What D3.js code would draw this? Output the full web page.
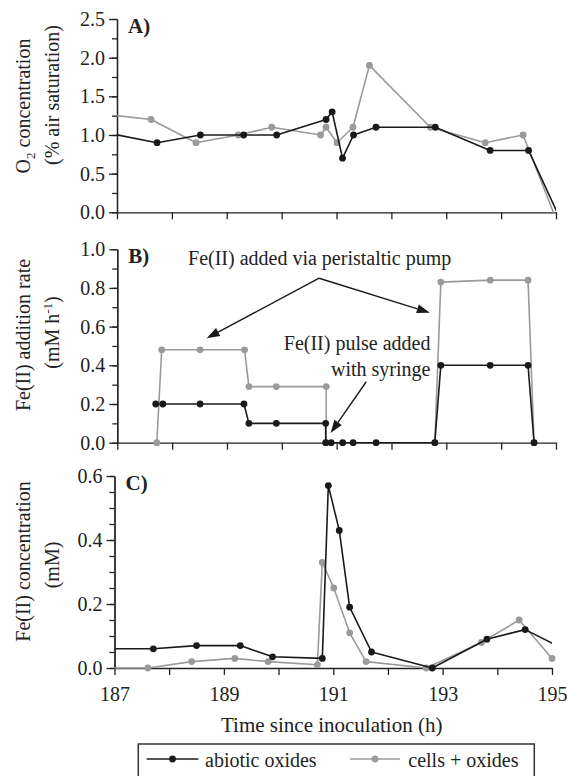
<!DOCTYPE html>
<html>
<head>
<meta charset="utf-8">
<style>
  body { margin: 0; background: #fff; }
  svg text { font-family: "Liberation Serif", "Tinos", "DejaVu Serif", "Times New Roman", Times, serif !important; fill: #222; }
</style>
</head>
<body>
<svg width="567" height="776"></svg>
<script src="https://d3js.org/d3.v7.min.js"></script>
<script>

    // ---- data (time in h, value) ----
    var timeTicks  = [187, 188, 189, 190, 191, 192, 193, 194, 195];
    var timeLabels = [187, 189, 191, 193, 195];

    // A) O2 concentration (% air saturation)
    var o2Abiotic = [[186.5,1.07],[187.73,0.9],[188.52,1.0],[189.31,1.0],[189.91,1.0],[190.81,1.2],[190.92,1.3],
                     [191.11,0.7],[191.31,1.0],[191.72,1.1],[192.8,1.1],[193.8,0.8],[194.5,0.8],[195.3,-0.43]];
    var o2Cells   = [[186.5,1.29],[187.62,1.2],[188.44,0.9],[189.21,1.0],[189.82,1.1],[190.71,1.0],[190.81,1.1],
                     [191.01,0.9],[191.3,1.1],[191.6,1.9],[192.71,1.1],[193.71,0.9],[194.4,1.0],[195.2,-0.45]];
    var o2Ticks   = [0, 0.5, 1.0, 1.5, 2.0, 2.5];

    // B) Fe(II) addition rate (mM h-1)
    var rateAbiotic = [[187.7,0.2],[187.83,0.2],[188.51,0.2],[189.31,0.2],[189.4,0.1],[189.9,0.1],[190.8,0.1],
                       [190.8,0],[190.9,0],[191.11,0],[191.3,0],[191.72,0],[192.79,0],[192.9,0.4],[193.8,0.4],
                       [194.49,0.4],[194.6,0]];
    var rateCells   = [[187.72,0],[187.81,0.48],[188.51,0.48],[189.32,0.48],[189.4,0.29],[189.9,0.29],[190.81,0.29],
                       [190.81,0],[192.79,0],[192.9,0.83],[193.8,0.84],[194.49,0.84],[194.6,0]];
    var rateTicks   = [0, 0.2, 0.4, 0.6, 0.8, 1.0];

    // C) Fe(II) concentration (mM)
    var concAbiotic = [[186.5,0.06],[187.71,0.06],[188.5,0.07],[189.3,0.07],[189.89,0.035],[190.8,0.03],[190.91,0.57],
                       [191.11,0.43],[191.3,0.19],[191.7,0.05],[192.81,0],[193.81,0.09],[194.51,0.12],[195.5,0.035]];
    var concCells   = [[186.5,0],[187.61,0],[188.41,0.02],[189.2,0.03],[189.81,0.02],[190.71,0.01],[190.8,0.33],
                       [191.01,0.25],[191.3,0.11],[191.6,0.02],[192.7,0],[193.71,0.08],[194.4,0.15],[195.0,0.03]];
    var concTicks   = [0, 0.2, 0.4, 0.6];

    var seriesNames = ["abiotic oxides", "cells + oxides"];

    // annotation anchors for panel B, in data units
    var pumpText    = [190.69, 0.918];
    var pumpApex    = [190.68, 0.85];
    var pumpTips    = [[188.63, 0.54], [192.70, 0.672]];
    var syringeText = [192.71, 0.479];
    var syringeFrom = [191.54, 0.315];
    var syringeTip  = [190.89, 0.05];

    var svg = d3.select("svg");
    var ink = "#222", dark = "#1a1a1a", grey = "#9a9a9a";
    var serif = '"Liberation Serif", Tinos, "DejaVu Serif", "Times New Roman", Times, serif';

    var panels = [
        {name: "A", xr: [117, 556],   top: 19,    bottom: 212.3, max: 2.5, minor: 0.25,
         ticks: o2Ticks,   series: [o2Cells, o2Abiotic]},
        {name: "B", xr: [117.3, 556], top: 249.2, bottom: 442.7, max: 1.0, minor: 0.1,
         ticks: rateTicks, series: [rateCells, rateAbiotic]},
        {name: "C", xr: [114.5, 552], top: 476,   bottom: 668,   max: 0.6, minor: 0.05,
         ticks: concTicks, series: [concCells, concAbiotic], labels: true}
    ];
    var colors = [grey, dark];

    function styleAxis(sel, size) {
        sel.attr("font-size", size).attr("font-family", serif);
        sel.selectAll("path, line").attr("stroke", ink).attr("stroke-width", 1.3);
        sel.selectAll("text").attr("fill", ink);
    }

    panels.forEach(function(p) {
        var x = d3.scaleLinear().domain([187, 195]).range(p.xr);
        var y = d3.scaleLinear().domain([0, p.max]).range([p.bottom, p.top]);
        p.x = x; p.y = y;

        svg.append("clipPath").attr("id", "clip" + p.name)
            .append("rect")
            .attr("x", x(187)).attr("y", y(p.max))
            .attr("width", x(195) - x(187))
            .attr("height", y(0) - y(p.max) + 1);

        // minor y ticks
        var minor = d3.range(0, p.max + 1e-9, p.minor);
        svg.append("g")
            .attr("transform", "translate(" + x(187) + ",0)")
            .call(d3.axisLeft(y).tickValues(minor).tickSize(5).tickSizeOuter(0).tickFormat(""))
            .call(styleAxis, 20);

        // major y ticks
        svg.append("g")
            .attr("transform", "translate(" + x(187) + ",0)")
            .call(d3.axisLeft(y).tickValues(p.ticks).tickSize(8).tickSizeOuter(0).tickPadding(4)
                  .tickFormat(d3.format(".1f")))
            .call(styleAxis, 20);

        // x axis
        svg.append("g")
            .attr("transform", "translate(0," + y(0) + ")")
            .call(d3.axisBottom(x).tickValues(timeTicks).tickSize(7).tickSizeOuter(0).tickPadding(12)
                  .tickFormat(function(d) { return p.labels && timeLabels.indexOf(d) >= 0 ? d : ""; }))
            .call(styleAxis, 20);

        var line = d3.line()
            .x(function(d) { return x(d[0]); })
            .y(function(d) { return y(d[1]); });

        p.series.forEach(function(s, i) {
            svg.append("path")
                .datum(s)
                .attr("clip-path", "url(#clip" + p.name + ")")
                .attr("fill", "none")
                .attr("stroke", colors[i])
                .attr("stroke-width", 1.6)
                .attr("stroke-linejoin", "round")
                .attr("d", line);

            svg.append("g").selectAll("circle")
                .data(s.filter(function(d) { return d[0] >= 187 && d[0] <= 195 && d[1] >= 0; }))
                .enter().append("circle")
                .attr("cx", function(d) { return x(d[0]); })
                .attr("cy", function(d) { return y(d[1]); })
                .attr("r", 3.4)
                .attr("fill", colors[i]);
        });

        svg.append("text")
            .attr("x", x(187) + 11)
            .attr("y", p.top + 13.5)
            .attr("font-family", serif)
            .attr("font-size", 21)
            .attr("font-weight", "bold")
            .text(p.name + ")");
    });

    // ---- y axis titles ----
    function yTitle(bx, cy) {
        return svg.append("text")
            .attr("transform", "translate(" + bx + "," + cy + ") rotate(-90)")
            .attr("text-anchor", "middle")
            .attr("font-family", serif)
            .attr("font-size", 20);
    }
    var t1 = yTitle(30, 106);
    t1.append("tspan").text("O");
    t1.append("tspan").attr("font-size", 13).attr("dy", 5).text("2");
    t1.append("tspan").attr("dy", -5).text(" concentration");
    yTitle(59, 95).text("(% air saturation)");

    yTitle(29.5, 335).text("Fe(II) addition rate");
    var t2 = yTitle(58.5, 332.5);
    t2.append("tspan").text("(mM h");
    t2.append("tspan").attr("font-size", 13).attr("dy", -7).text("-1");
    t2.append("tspan").attr("dy", 7).text(")");

    yTitle(29.5, 561.5).text("Fe(II) concentration");
    yTitle(58.5, 565).text("(mM)");

    // ---- x axis title ----
    svg.append("text")
        .attr("x", 331.7).attr("y", 731.5)
        .attr("text-anchor", "middle")
        .attr("font-family", serif)
        .attr("font-size", 21)
        .text("Time since inoculation (h)");

    // ---- annotations in panel B ----
    var pb = panels[1];
    function arrow(from, to) {
        var x1 = pb.x(from[0]), y1 = pb.y(from[1]), x2 = pb.x(to[0]), y2 = pb.y(to[1]);
        var a = Math.atan2(y2 - y1, x2 - x1), len = 13, hw = 4.5;
        var bx = x2 - len * Math.cos(a), by = y2 - len * Math.sin(a);
        svg.append("line")
            .attr("x1", x1).attr("y1", y1).attr("x2", bx).attr("y2", by)
            .attr("stroke", dark).attr("stroke-width", 1.4);
        svg.append("path")
            .attr("d", "M" + x2 + "," + y2 +
                       "L" + (bx + hw * Math.sin(a)) + "," + (by - hw * Math.cos(a)) +
                       "L" + (bx - hw * Math.sin(a)) + "," + (by + hw * Math.cos(a)) + "Z")
            .attr("fill", dark);
    }
    svg.append("text")
        .attr("x", pb.x(pumpText[0])).attr("y", pb.y(pumpText[1]))
        .attr("text-anchor", "middle").attr("font-family", serif).attr("font-size", 20)
        .text("Fe(II) added via peristaltic pump");
    pumpTips.forEach(function(t) { arrow(pumpApex, t); });

    var st = svg.append("text")
        .attr("x", pb.x(syringeText[0])).attr("y", pb.y(syringeText[1]))
        .attr("text-anchor", "end").attr("font-family", serif).attr("font-size", 20);
    st.append("tspan").attr("x", pb.x(syringeText[0])).text("Fe(II) pulse added");
    st.append("tspan").attr("x", pb.x(syringeText[0])).attr("dy", 25.7).text("with syringe");
    arrow(syringeFrom, syringeTip);

    // ---- legend ----
    var lg = svg.append("g");
    lg.append("rect")
        .attr("x", 138.3).attr("y", 744).attr("width", 396).attr("height", 50)
        .attr("fill", "none").attr("stroke", "#333").attr("stroke-width", 1.5);
    var lx = [[146.7, 198.3, 205], [350, 400, 408.3]];
    seriesNames.forEach(function(name, i) {
        var c = i === 0 ? dark : grey;
        lg.append("line")
            .attr("x1", lx[i][0]).attr("x2", lx[i][1]).attr("y1", 759).attr("y2", 759)
            .attr("stroke", c).attr("stroke-width", 1.6);
        lg.append("circle")
            .attr("cx", (lx[i][0] + lx[i][1]) / 2).attr("cy", 759).attr("r", 3.4).attr("fill", c);
        lg.append("text")
            .attr("x", lx[i][2]).attr("y", 767)
            .attr("font-family", serif)
            .attr("font-size", 20)
            .text(name);
    });

</script>
</body>
</html>
